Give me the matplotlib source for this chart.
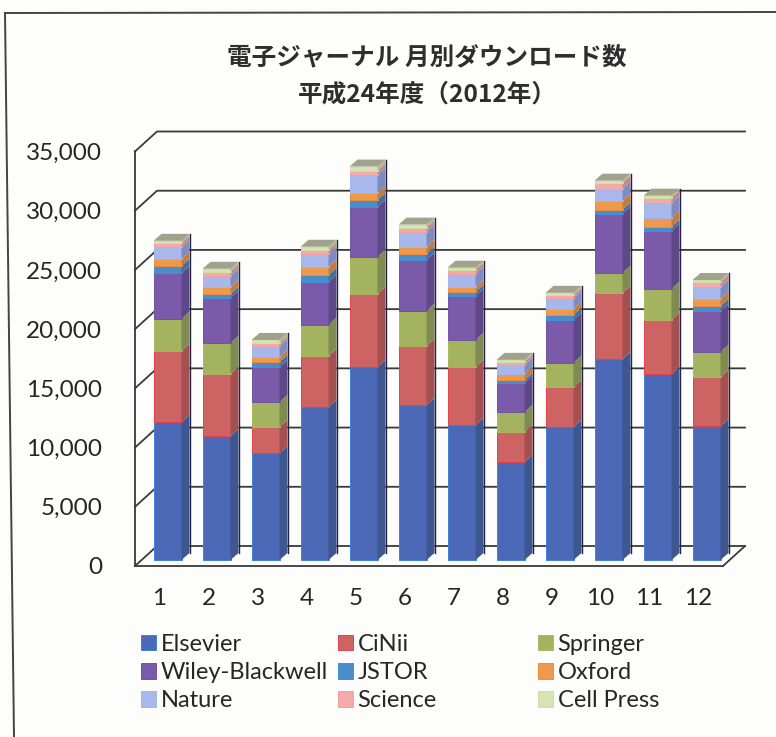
import matplotlib
matplotlib.use("Agg")
import matplotlib.pyplot as plt
from matplotlib.lines import Line2D
import numpy as np

months = [str(i) for i in range(1, 13)]
elsevier = [11660, 10480, 9040, 12930, 16310, 13100, 11410, 8280, 11240, 16980, 15720, 11320]
cinii = [6000, 5240, 2200, 4310, 6170, 4990, 4900, 2540, 3380, 5580, 4560, 4140]
springer = [2700, 2620, 2110, 2620, 3130, 2960, 2280, 1690, 2030, 1690, 2620, 2110]
wiley = [3890, 3800, 2960, 3630, 4230, 4310, 3720, 2450, 3630, 4990, 4900, 3460]
jstor = [590, 340, 420, 590, 590, 510, 340, 250, 420, 340, 340, 420]
oxford = [590, 590, 420, 680, 590, 590, 420, 510, 510, 760, 760, 590]
nature = [1010, 930, 930, 1100, 1520, 1270, 1100, 760, 930, 1010, 1270, 1010]
science = [340, 340, 250, 340, 340, 340, 340, 250, 250, 510, 420, 420]
cell_press = [170, 250, 250, 250, 340, 250, 170, 170, 170, 170, 170, 170]

series_names = ["Elsevier", "CiNii", "Springer", "Wiley-Blackwell", "JSTOR",
                "Oxford", "Nature", "Science", "Cell Press"]
series_values = [elsevier, cinii, springer, wiley, jstor, oxford, nature, science, cell_press]
front_colors = ["#4c69b8", "#cd6463", "#a3b360", "#7b5ba9", "#4b8dcb",
                "#ee9a4c", "#a9b8ea", "#f4a9aa", "#d6e3b2"]
side_colors = ["#3f5791", "#a55050", "#7f8b50", "#5f4888", "#3f709f",
               "#c47c3c", "#7f8cc0", "#c58888", "#aab88e"]
edge_colors = ["#3f7fdc", "#e8404a", "#a9b95a", "#6f55a0", "#3f8fdc",
               "#f08a3c", "#a0b4ee", "#f4a0a4", "#d0dfa8"]
top_color = "#a0a28c"

W, H = 776, 737
fig = plt.figure(figsize=(W / 100, H / 100), dpi=100, facecolor="#fdfdfc")

LEFT, RIGHT, BASE, TOP = 135, 723, 566, 151.5
ax = fig.add_axes([LEFT / W, 1 - BASE / H, (RIGHT - LEFT) / W, (BASE - TOP) / H])
ax.set_xlim(0.5, 12.5)
ax.set_ylim(0, 35000)
ax.patch.set_alpha(0)

px_x = (RIGHT - LEFT) / 12      # pixels per category
px_y = (BASE - TOP) / 35000     # pixels per unit


def dx(px):
    return px / px_x


def dy(px):
    return px / px_y


label_font = "Lato"
tick_size = 17.5
legend_size = 17
text_color = "#262626"

# Walls and gridlines
ticks = list(range(0, 35001, 5000))
grid_color = "#3a3a3a"
wall_x, wall_y = dx(22), dy(20)
for v in ticks:
    ax.plot([0.5, 0.5 + wall_x, 12.5 + wall_x], [v, v + wall_y, v + wall_y],
            color=grid_color, lw=1.3, zorder=1, clip_on=False)
ax.plot([12.5, 12.5 + wall_x], [0, wall_y], color=grid_color, lw=1.3, zorder=1, clip_on=False)

# Bars: front faces through ax.bar, depth faces computed from the same values
x = np.arange(1, 13)
off_x, off_y = dx(8), dy(6)
width = 28 / px_x
side_x, side_y = dx(8), dy(7)
bottom = np.zeros(12)
handles = []
for vals, fc, sc, ec, name in zip(series_values, front_colors, side_colors, edge_colors, series_names):
    vals = np.array(vals, dtype=float)
    bars = ax.bar(x + off_x, vals, width=width, bottom=bottom + off_y, color=fc,
                  edgecolor=ec, linewidth=0.7, zorder=3, label=name, clip_on=False)
    handles.append(bars)
    for xi, b, v in zip(x, bottom, vals):
        xr = xi + off_x + width / 2
        y0, y1 = b + off_y, b + v + off_y
        ax.fill([xr, xr + side_x, xr + side_x, xr], [y0, y0 + side_y, y1 + side_y, y1],
                color=sc, lw=0, zorder=3, clip_on=False)
    bottom = bottom + vals

for xi, t in zip(x, bottom):
    xl = xi + off_x - width / 2
    xr = xi + off_x + width / 2
    yt = t + off_y
    ax.fill([xl, xr, xr + side_x, xl + side_x], [yt, yt, yt + side_y, yt + side_y],
            color=top_color, lw=0, zorder=4, clip_on=False)
    # dark rear edge of the bar
    ax.plot([xr + side_x, xr + side_x], [off_y + side_y, yt + side_y],
            color="#23233f", lw=1.0, zorder=4, clip_on=False)

# Axes
for s in ("top", "right"):
    ax.spines[s].set_visible(False)
for s in ("left", "bottom"):
    ax.spines[s].set_color(grid_color)
    ax.spines[s].set_linewidth(1.3)
ax.set_xticks(x, months)
ax.set_yticks(ticks, [f"{v:,}" for v in ticks])
ax.tick_params(axis="y", length=0, pad=23.5, labelsize=tick_size, labelcolor=text_color)
ax.tick_params(axis="x", length=0, pad=16, labelsize=tick_size, labelcolor=text_color)
for lab in ax.get_xticklabels() + ax.get_yticklabels():
    lab.set_family(label_font)

# Title
title_fonts = ["Noto Sans CJK JP", "DejaVu Sans"]
fig.text(427 / W, 1 - 57 / H, "電子ジャーナル 月別ダウンロード数", family=title_fonts,
         fontweight="bold", fontsize=17.7, ha="center", va="center", color="#2e2e2e")
fig.text(427 / W, 1 - 95 / H, "平成24年度（2012年）", family=title_fonts,
         fontweight="bold", fontsize=17.7, ha="center", va="center", color="#2e2e2e")

# Legend: three independent columns
for col, left_px in enumerate((141, 338, 538)):
    col_handles = handles[col::3]
    col_labels = series_names[col::3]
    leg = fig.legend(col_handles, col_labels, loc="upper left",
                     bbox_to_anchor=(left_px / W, 1 - 634 / H), bbox_transform=fig.transFigure,
                     frameon=False, borderpad=0, borderaxespad=0,
                     handlelength=0.63, handleheight=0.63, handletextpad=0.2,
                     labelspacing=0.3, prop={"family": label_font, "size": legend_size})
    for t in leg.get_texts():
        t.set_color(text_color)

# Chart frame from the scanned page
fig.add_artist(Line2D([5 / W, 776 / W], [1 - 13 / H, 1 - 12 / H], color="#444444", lw=1.4))
fig.add_artist(Line2D([5 / W, 14 / W], [1 - 13 / H, 0], color="#444444", lw=1.4))

fig.savefig("out.png", dpi=100, facecolor=fig.get_facecolor())
